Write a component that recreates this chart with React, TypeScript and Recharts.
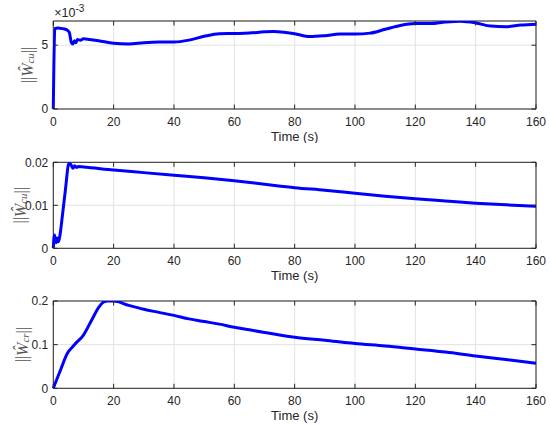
import { LineChart, Line, XAxis, YAxis, CartesianGrid, ReferenceArea } from "recharts";

const xTicks = [0, 20, 40, 60, 80, 100, 120, 140, 160];

// ||W_cu|| (first panel), scaled by 1e-3
const time1 = [0, 0.5, 1.5, 3, 4.5, 5.3, 6, 6.5, 7, 7.5, 8, 9, 10, 12, 15, 20, 25, 30, 35, 40, 45, 50, 55, 60, 65, 70, 73, 77, 80, 85, 90, 95, 100, 105, 110, 115, 120, 125, 130, 135, 140, 145, 150, 155, 160];
const wcu1 = [0, 0.0063, 0.00635, 0.0063, 0.0062, 0.006, 0.0052, 0.0051, 0.00535, 0.0052, 0.00545, 0.0054, 0.0055, 0.00545, 0.00535, 0.00515, 0.0051, 0.0052, 0.00525, 0.00525, 0.0054, 0.0057, 0.0059, 0.00592, 0.00595, 0.00605, 0.00608, 0.006, 0.0059, 0.00568, 0.00575, 0.00588, 0.00588, 0.00595, 0.00625, 0.00655, 0.0067, 0.0067, 0.00682, 0.00688, 0.00675, 0.0065, 0.00645, 0.00658, 0.00665];

// ||W_cu|| (second panel)
const time2 = [0, 0.4, 0.9, 1.3, 1.7, 2.2, 3, 4, 5.2, 5.8, 6.5, 7.1, 7.7, 8.3, 10, 20, 30, 40, 50, 60, 70, 80, 90, 100, 110, 120, 130, 140, 150, 160];
const wcu2 = [0, 0.0031, 0.0013, 0.0024, 0.0015, 0.003, 0.0075, 0.0135, 0.0198, 0.0195, 0.0186, 0.0192, 0.0188, 0.019, 0.0189, 0.0182, 0.0176, 0.017, 0.0164, 0.0157, 0.0149, 0.0141, 0.0135, 0.0128, 0.0121, 0.0115, 0.011, 0.0105, 0.0101, 0.0098];

// ||W_cr||
const time3 = [0, 2, 5, 6, 7, 10, 13, 15, 17, 18, 20, 25, 30, 35, 40, 45, 50, 55, 60, 65, 70, 75, 80, 90, 100, 110, 120, 130, 140, 150, 160];
const wcr = [0, 0.035, 0.084, 0.092, 0.1, 0.122, 0.16, 0.185, 0.199, 0.2, 0.2, 0.19, 0.181, 0.174, 0.167, 0.159, 0.153, 0.147, 0.14, 0.134, 0.128, 0.122, 0.117, 0.11, 0.1026, 0.097, 0.09, 0.083, 0.074, 0.066, 0.0575];

const yTicks1 = [0, 0.005];
const yLabels1 = ["0", "5"];
const yTicks2 = [0, 0.01, 0.02];
const yLabels2 = ["0", "0.01", "0.02"];
const yTicks3 = [0, 0.1, 0.2];
const yLabels3 = ["0", "0.1", "0.2"];

const AXIS = "#262626";
const GRID = "#e2e2e2";
const FONT = "'Liberation Sans', Arial, sans-serif";
const W = 550;
const LEFT = 53.3;
const RIGHT = 536;
const PLOT_W = RIGHT - LEFT;
const Y_AXIS_W = 40;
const X_AXIS_H = 34;
const GAP = 8;
const TICK = 4.5;

interface PanelProps {
  top: number;
  height: number;
  marginTop: number;
  marginBottom: number;
  time: number[];
  values: number[];
  yMax: number;
  yTicks: number[];
  yLabels: string[];
  sub: string;
  labelX: number;
  exponent?: boolean;
}

function Panel({ top, height, marginTop, marginBottom, time, values, yMax, yTicks, yLabels, sub, labelX, exponent }: PanelProps) {
  const data = time.map((t, i) => ({ t, v: values[i] }));
  const plotH = height - marginTop - marginBottom - X_AXIS_H;
  const plotBottom = marginTop + plotH;

  const xTick = (props: any) => {
    const { x, y, payload } = props;
    const axisY = y - GAP;
    return (
      <g>
        <line x1={x} x2={x} y1={axisY} y2={axisY - TICK} stroke={AXIS} />
        <line x1={x} x2={x} y1={axisY - plotH} y2={axisY - plotH + TICK} stroke={AXIS} />
        <text x={x} y={y} dy="0.71em" textAnchor="middle" fill={AXIS} fontSize={12} fontFamily={FONT}>
          {payload.value}
        </text>
      </g>
    );
  };

  const yTick = (props: any) => {
    const { x, y, payload } = props;
    const axisX = x + 5;
    const idx = yTicks.indexOf(payload.value);
    return (
      <g>
        <line x1={axisX} x2={axisX + TICK} y1={y} y2={y} stroke={AXIS} />
        <line x1={axisX + PLOT_W} x2={axisX + PLOT_W - TICK} y1={y} y2={y} stroke={AXIS} />
        <text x={x} y={y} dy="0.355em" textAnchor="end" fill={AXIS} fontSize={12} fontFamily={FONT}>
          {idx >= 0 ? yLabels[idx] : payload.value}
        </text>
      </g>
    );
  };

  const xLabel = () => (
    <text x={LEFT + PLOT_W / 2} y={plotBottom + 32} textAnchor="middle" fill={AXIS} fontSize={13} fontFamily={FONT}>
      Time (s)
    </text>
  );

  const yLabel = () => {
    const cy = marginTop + plotH / 2;
    return (
      <g>
        <text
          x={labelX}
          y={cy}
          transform={`rotate(-90, ${labelX}, ${cy})`}
          textAnchor="middle"
          dominantBaseline="central"
          fill="#555"
          fontSize={16}
          fontFamily="'Liberation Serif', 'Times New Roman', serif"
        >
          ||<tspan fontStyle="italic">Ŵ</tspan>
          <tspan fontStyle="italic" fontSize={11} dy={3}>{sub}</tspan>
          <tspan dy={-3}>||</tspan>
        </text>
        {exponent && (
          <text x={LEFT + 1} y={17} fill={AXIS} fontFamily={FONT}>
            <tspan fontSize={12.5}>×10</tspan>
            <tspan fontSize={10} dy={-5}>-3</tspan>
          </text>
        )}
      </g>
    );
  };

  return (
    <div style={{ position: "absolute", left: 0, top }}>
      <LineChart
        width={W}
        height={height}
        data={data}
        margin={{ top: marginTop, right: W - RIGHT, bottom: marginBottom, left: LEFT - Y_AXIS_W }}
      >
        <CartesianGrid stroke={GRID} />
        <XAxis
          dataKey="t"
          type="number"
          domain={[0, 160]}
          ticks={xTicks}
          height={X_AXIS_H}
          tickSize={0}
          tickMargin={GAP}
          axisLine={false}
          tickLine={false}
          tick={xTick}
          label={xLabel}
        />
        <YAxis
          type="number"
          domain={[0, yMax]}
          ticks={yTicks}
          width={Y_AXIS_W}
          tickSize={0}
          tickMargin={5}
          axisLine={false}
          tickLine={false}
          tick={yTick}
          label={yLabel}
          allowDataOverflow
        />
        <ReferenceArea x1={0} x2={160} y1={0} y2={yMax} fill="none" stroke={AXIS} strokeWidth={1} />
        <Line
          dataKey="v"
          type="monotone"
          stroke="#0000ff"
          strokeWidth={3}
          dot={false}
          isAnimationActive={false}
        />
      </LineChart>
    </div>
  );
}

export default function App() {
  return (
    <div style={{ position: "absolute", left: 0, top: 0, width: 550, height: 430, background: "#fff" }}>
      <Panel top={0} height={143} marginTop={21} marginBottom={0} time={time1} values={wcu1} yMax={0.0069} yTicks={yTicks1} yLabels={yLabels1} sub="cu" labelX={27} exponent />
      <Panel top={143} height={143} marginTop={19.3} marginBottom={3.7} time={time2} values={wcu2} yMax={0.02} yTicks={yTicks2} yLabels={yLabels2} sub="cu" labelX={20} />
      <Panel top={286} height={144} marginTop={15} marginBottom={7.7} time={time3} values={wcr} yMax={0.2} yTicks={yTicks3} yLabels={yLabels3} sub="cr" labelX={22} />
    </div>
  );
}
